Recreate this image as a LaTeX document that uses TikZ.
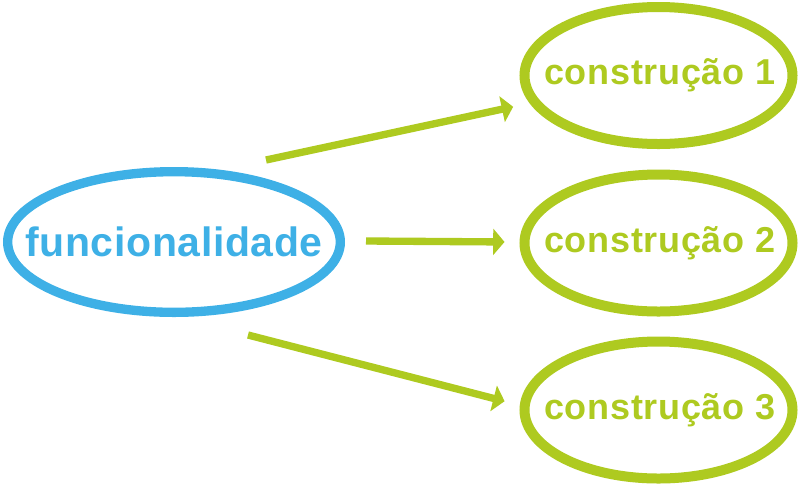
\documentclass[tikz,border=0pt]{standalone}
\usepackage{fontspec}
\setmainfont{Liberation Sans}
\usetikzlibrary{shapes.geometric,arrows.meta}
\definecolor{funcblue}{RGB}{62,176,230}
\definecolor{constgreen}{RGB}{174,202,32}
\begin{document}
\begin{tikzpicture}
      [x=0.75pt,y=-0.75pt,
       func/.style={ellipse,draw=funcblue,line width=7pt,
         minimum width=249.5pt,minimum height=105.5pt,inner sep=0pt},
       constr/.style={ellipse,draw=constgreen,line width=7.5pt,
         minimum width=201pt,minimum height=102.75pt,inner sep=0pt},
       funclabel/.style={text=funcblue,font=\fontsize{30.75}{36}\selectfont\bfseries\addfontfeatures{LetterSpace=1.5}},
       constrlabel/.style={text=constgreen,font=\fontsize{27}{32}\selectfont\bfseries\addfontfeatures{LetterSpace=2}},
       seta/.style={draw=constgreen,line width=5.5pt,
         -{Triangle[length=8.5pt,width=19.5pt]}}]
      \useasboundingbox (0,0) rectangle (800,487);
      \node[func,label={[funclabel]center:funcionalidade}] (F) at (174,242) {};
      \node[constr,label={[constrlabel,xshift=1pt]center:construção 1}] (C1) at (658.5,75.5) {};
      \node[constr,label={[constrlabel,xshift=1pt]center:construção 2}] (C2) at (658.5,243) {};
      \node[constr,label={[constrlabel,xshift=1pt]center:construção 3}] (C3) at (658.5,410) {};
      \coordinate (S1) at (266,160);
      \coordinate (S2) at (366,241);
      \coordinate (S3) at (248,335);
      \draw[seta,shorten >=12.75pt] (S1) -- (C1);
      \draw[seta,shorten >=11.25pt] (S2) -- (C2);
      \draw[seta,shorten >=11.8pt] (S3) -- (C3.178.5);
\end{tikzpicture}
\end{document}
